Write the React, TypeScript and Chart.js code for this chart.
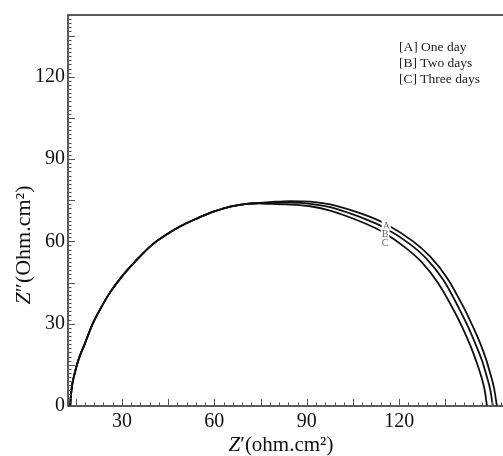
import React, { useEffect, useRef } from 'react';
import { Chart, registerables } from 'chart.js';
Chart.register(...registerables);

// Shared part of the arc (the three curves coincide here)
const commonZr = [13.21, 13.42, 13.82, 14.53, 15.85, 17.78, 20.32, 22.96, 26.21, 29.77, 34.34, 39.21, 44.09, 48.96, 54.45, 59.93, 65.11, 69.89, 73.64];
const commonZi = [0, 3.5, 7.5, 11.3, 16.7, 22.2, 29.5, 35.3, 41.5, 46.9, 52.7, 58.2, 62.2, 65.5, 68.4, 70.9, 72.7, 73.6, 73.9];

// [A] One day
const aZr = [79.0, 84.6, 91.1, 97.6, 104.1, 110.6, 116.4, 124.5, 130.0, 135.6, 140.8, 143.6, 146.3, 148.2, 149.5, 150.8, 151.7];
const aZi = [74.4, 74.7, 74.5, 73.5, 71.5, 68.9, 65.9, 60.0, 54.5, 46.6, 36.2, 29.7, 22.8, 17.0, 12.0, 6.4, 0];
// [B] Two days
const bZr = [77.0, 84.6, 91.1, 97.6, 104.1, 110.6, 115.4, 123.5, 128.9, 134.4, 139.4, 142.3, 144.9, 146.9, 148.2, 149.5, 150.4];
const bZi = [74.0, 74.1, 73.7, 72.5, 70.2, 67.4, 64.9, 59.0, 53.6, 45.8, 35.6, 29.0, 22.2, 16.5, 11.6, 6.2, 0];
// [C] Three days
const cZr = [75.5, 83.0, 91.1, 97.6, 104.1, 110.6, 114.8, 121.9, 127.3, 132.6, 137.7, 140.6, 143.2, 145.1, 146.5, 147.7, 148.5];
const cZi = [73.8, 73.5, 72.8, 71.2, 68.7, 65.7, 63.3, 57.8, 52.4, 44.8, 34.9, 28.4, 21.7, 16.0, 11.2, 6.0, 0];

const seriesNames = ['A', 'B', 'C'];
const legendTexts = ['[A] One day', '[B] Two days', '[C] Three days'];
const curveLabelZr = [115.8, 115.4, 115.4];
const curveLabelZi = [65.8, 62.9, 59.3];

const xTicks = [30, 60, 90, 120];
const yTicks = [0, 30, 60, 90, 120];
const xMin = 12.5;
const xMax = 161.8;
const yMin = 0;
const yMax = 142.5;

const SERIF = '"Liberation Serif", "Times New Roman", serif';

function toPoints(zr: number[], zi: number[]) {
  return zr.map((x, i) => ({ x, y: zi[i] }));
}

const decorPlugin = {
  id: 'decor',
  afterDatasetsDraw(chart: any) {
    const { ctx, scales } = chart;
    const xs = scales.x;
    const ys = scales.y;
    ctx.save();
    ctx.font = `10px ${SERIF}`;
    ctx.textAlign = 'center';
    ctx.textBaseline = 'middle';
    seriesNames.forEach((n, i) => {
      const px = xs.getPixelForValue(curveLabelZr[i]);
      const py = ys.getPixelForValue(curveLabelZi[i]);
      const w = ctx.measureText(n).width;
      ctx.fillStyle = '#fff';
      ctx.fillRect(px - w / 2 - 1, py - 5, w + 2, 10);
      ctx.fillStyle = '#666';
      ctx.fillText(n, px, py + 0.5);
    });
    ctx.restore();
  },
  afterDraw(chart: any) {
    const { ctx, chartArea, scales } = chart;
    const xs = scales.x;
    const ys = scales.y;
    const { left, right, top, bottom } = chartArea;
    ctx.save();
    // frame
    ctx.strokeStyle = '#333';
    ctx.lineWidth = 1.6;
    ctx.strokeRect(left, top, right - left, bottom - top);
    // inner ticks
    ctx.strokeStyle = '#555';
    ctx.lineWidth = 1;
    ctx.beginPath();
    for (let k = Math.ceil(xMin / 3); k * 3 <= xMax; k++) {
      const v = k * 3;
      const px = Math.round(xs.getPixelForValue(v)) + 0.5;
      const len = k % 5 === 0 ? 7 : 3.5;
      ctx.moveTo(px, bottom);
      ctx.lineTo(px, bottom - len);
    }
    for (let k = 0; k * 1.5 <= yMax; k++) {
      const v = k * 1.5;
      const py = Math.round(ys.getPixelForValue(v)) + 0.5;
      const len = k % 10 === 0 ? 7 : 3.5;
      ctx.moveTo(left, py);
      ctx.lineTo(left + len, py);
    }
    ctx.stroke();

    // axis titles
    ctx.fillStyle = '#111';
    ctx.textBaseline = 'alphabetic';
    const drawSegs = (segs: { t: string; f: string }[], cx: number, cy: number) => {
      let total = 0;
      segs.forEach((s) => {
        ctx.font = s.f;
        total += ctx.measureText(s.t).width;
      });
      let x = cx - total / 2;
      segs.forEach((s) => {
        ctx.font = s.f;
        ctx.textAlign = 'left';
        ctx.fillText(s.t, x, cy);
        x += ctx.measureText(s.t).width;
      });
    };
    drawSegs(
      [
        { t: 'Z', f: `italic 21px ${SERIF}` },
        { t: '\u2032(ohm.cm\u00b2)', f: `21px ${SERIF}` },
      ],
      281,
      451
    );
    ctx.save();
    ctx.translate(30, 245);
    ctx.rotate(-Math.PI / 2);
    drawSegs(
      [
        { t: 'Z', f: `italic 22px ${SERIF}` },
        { t: '\u2033(Ohm.cm\u00b2)', f: `22px ${SERIF}` },
      ],
      0,
      0
    );
    ctx.restore();

    // legend text
    ctx.font = `13.5px ${SERIF}`;
    ctx.textAlign = 'left';
    ctx.textBaseline = 'middle';
    ctx.fillStyle = '#222';
    legendTexts.forEach((t, i) => {
      ctx.fillText(t, 399, 47 + i * 16);
    });
    ctx.restore();
  },
};

export default function App() {
  const ref = useRef<HTMLCanvasElement | null>(null);
  useEffect(() => {
    document.body.style.margin = '0';
    const canvas = ref.current;
    if (!canvas) return;
    const pts = [
      toPoints([...commonZr, ...aZr], [...commonZi, ...aZi]),
      toPoints([...commonZr, ...bZr], [...commonZi, ...bZi]),
      toPoints([...commonZr, ...cZr], [...commonZi, ...cZi]),
    ];
    const chart = new Chart(canvas, {
      type: 'line',
      data: {
        datasets: pts.map((d, i) => ({
          label: seriesNames[i],
          data: d,
          borderColor: '#111',
          borderWidth: 1.8,
          pointRadius: 0,
          fill: false,
          cubicInterpolationMode: 'monotone' as const,
        })),
      },
      options: {
        responsive: false,
        animation: false,
        devicePixelRatio: 1,
        layout: { padding: { top: 14, right: 12, left: 0, bottom: 0 } },
        plugins: { legend: { display: false }, tooltip: { enabled: false }, title: { display: false } },
        scales: {
          x: {
            type: 'linear',
            min: xMin,
            max: xMax,
            afterBuildTicks: (s: any) => {
              s.ticks = xTicks.map((v) => ({ value: v }));
            },
            afterFit: (s: any) => {
              s.height = 50;
            },
            grid: { display: false, drawTicks: false },
            border: { display: false },
            ticks: {
              padding: 4,
              color: '#111',
              font: { family: SERIF, size: 20 },
              maxRotation: 0,
              autoSkip: false,
            },
          },
          y: {
            type: 'linear',
            min: yMin,
            max: yMax,
            afterBuildTicks: (s: any) => {
              s.ticks = yTicks.map((v) => ({ value: v }));
            },
            afterFit: (s: any) => {
              s.width = 68;
            },
            grid: { display: false, drawTicks: false },
            border: { display: false },
            ticks: {
              padding: 3,
              color: '#111',
              font: { family: SERIF, size: 20 },
              autoSkip: false,
            },
          },
        },
      },
      plugins: [decorPlugin],
    });
    return () => chart.destroy();
  }, []);
  return (
    <div style={{ width: 503, height: 456, overflow: 'hidden', position: 'relative', background: '#fff' }}>
      <canvas ref={ref} width={540} height={456} style={{ display: 'block', width: 540, height: 456 }} />
    </div>
  );
}
